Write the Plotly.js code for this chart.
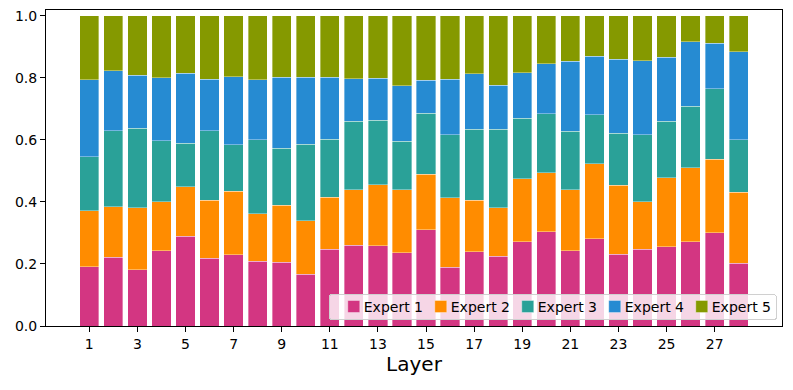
<!DOCTYPE html>
<html>
<head>
<meta charset="utf-8">
<script src="https://cdn.plot.ly/plotly-3.0.1.min.js"></script>
<style>
  html, body { margin: 0; padding: 0; background: #fff; }
  #myDiv { width: 793px; height: 390px; }
</style>
</head>
<body>
<div id="myDiv"></div>
<script>
// share of tokens routed to each expert, per layer
const layers = [1, 2, 3, 4, 5, 6, 7, 8, 9, 10, 11, 12, 13, 14, 15, 16, 17, 18, 19, 20, 21, 22, 23, 24, 25, 26, 27, 28];
const expertNames = ['Expert 1', 'Expert 2', 'Expert 3', 'Expert 4', 'Expert 5'];

const expert1 = [0.191, 0.222, 0.181, 0.243, 0.290, 0.218, 0.229, 0.209, 0.206, 0.167, 0.247, 0.261, 0.259, 0.237,
                 0.310, 0.189, 0.240, 0.225, 0.272, 0.304, 0.243, 0.282, 0.232, 0.247, 0.256, 0.272, 0.300, 0.202];
const expert2 = [0.181, 0.163, 0.201, 0.158, 0.159, 0.188, 0.205, 0.153, 0.184, 0.172, 0.169, 0.178, 0.196, 0.202,
                 0.180, 0.225, 0.166, 0.157, 0.203, 0.190, 0.196, 0.242, 0.222, 0.154, 0.222, 0.238, 0.237, 0.230];
const expert3 = [0.174, 0.244, 0.256, 0.197, 0.140, 0.223, 0.150, 0.238, 0.184, 0.247, 0.187, 0.221, 0.208, 0.157,
                 0.196, 0.202, 0.228, 0.252, 0.195, 0.190, 0.189, 0.157, 0.168, 0.216, 0.182, 0.199, 0.228, 0.168];
const expert4 = [0.248, 0.194, 0.171, 0.202, 0.226, 0.167, 0.220, 0.194, 0.228, 0.216, 0.199, 0.138, 0.136, 0.179,
                 0.106, 0.179, 0.180, 0.143, 0.147, 0.162, 0.226, 0.189, 0.239, 0.239, 0.206, 0.208, 0.147, 0.285];
const expert5 = [0.206, 0.177, 0.191, 0.200, 0.185, 0.204, 0.196, 0.206, 0.198, 0.198, 0.198, 0.202, 0.201, 0.225,
                 0.208, 0.205, 0.186, 0.223, 0.183, 0.154, 0.146, 0.130, 0.139, 0.144, 0.134, 0.083, 0.088, 0.115];

const colors = ['#D33682', '#FF8C00', '#2AA198', '#268BD2', '#859900'];
const xTicks = [1, 3, 5, 7, 9, 11, 13, 15, 17, 19, 21, 23, 25, 27];

const series = [expert1, expert2, expert3, expert4, expert5];
const traces = series.map((vals, i) => ({
    type: 'bar',
    name: expertNames[i],
    x: layers,
    y: vals,
    width: 0.8,
    marker: {color: colors[i], line: {color: 'rgba(255,255,255,0.6)', width: 0.6}}
}));

const font = {family: 'DejaVu Sans, sans-serif', size: 14, color: '#000'};

const layout = {
    width: 793,
    height: 390,
    barmode: 'stack',
    bargap: 0,
    margin: {l: 46, r: 11, t: 10, b: 64},
    paper_bgcolor: '#fff',
    plot_bgcolor: '#fff',
    font: font,
    showlegend: true,
    legend: {
        orientation: 'h',
        x: 0.992, xanchor: 'right',
        y: 0.022, yanchor: 'bottom',
        bgcolor: 'rgba(255,255,255,0.8)',
        bordercolor: '#d0d0d0',
        borderwidth: 1,
        entrywidth: 42,
        font: {family: 'DejaVu Sans, sans-serif', size: 14, color: '#000'},
        traceorder: 'normal'
    },
    xaxis: {
        range: [-0.8, 29.8],
        tickvals: xTicks,
        ticktext: xTicks.map(String),
        ticks: 'outside', ticklen: 5, tickwidth: 1, tickcolor: '#000',
        showline: true, linecolor: '#000', linewidth: 1, mirror: true,
        showgrid: false, zeroline: false,
        tickfont: font,
        title: {text: 'Layer', font: {family: 'DejaVu Sans, sans-serif', size: 20, color: '#000'}, standoff: 6}
    },
    yaxis: {
        range: [0, 1.019],
        tickvals: [0, 0.2, 0.4, 0.6, 0.8, 1.0],
        ticktext: ['0.0', '0.2', '0.4', '0.6', '0.8', '1.0'],
        ticks: 'outside', ticklen: 5, tickwidth: 1, tickcolor: '#000',
        showline: true, linecolor: '#000', linewidth: 1, mirror: true,
        showgrid: false, zeroline: false,
        tickfont: font
    }
};

Plotly.newPlot('myDiv', traces, layout, {displayModeBar: false, staticPlot: true}).then(gd => {
    // tighten the legend like matplotlib's: label close to its swatch, compact box
    const leg = gd.querySelector('.legend');
    if (!leg) return;
    const bg = leg.querySelector('rect.bg');
    const box = leg.querySelector('.scrollbox');
    box.removeAttribute('clip-path');
    leg.querySelectorAll('text.legendtext').forEach(t => {
        t.setAttribute('x', parseFloat(t.getAttribute('x')) - 10);
    });
    const bb = box.getBBox();
    const w = bb.width + 10, h = 25;
    box.setAttribute('transform', 'translate(' + (5 - bb.x) + ',' + (h / 2 - (bb.y + bb.height / 2)) + ')');
    bg.setAttribute('x', 0.5);
    bg.setAttribute('y', 0.5);
    bg.setAttribute('width', w);
    bg.setAttribute('height', h);
    bg.setAttribute('rx', 3);
    bg.setAttribute('ry', 3);
    leg.setAttribute('transform', 'translate(' + (776 - w) + ',' + (319 - h) + ')');
});
</script>
</body>
</html>
